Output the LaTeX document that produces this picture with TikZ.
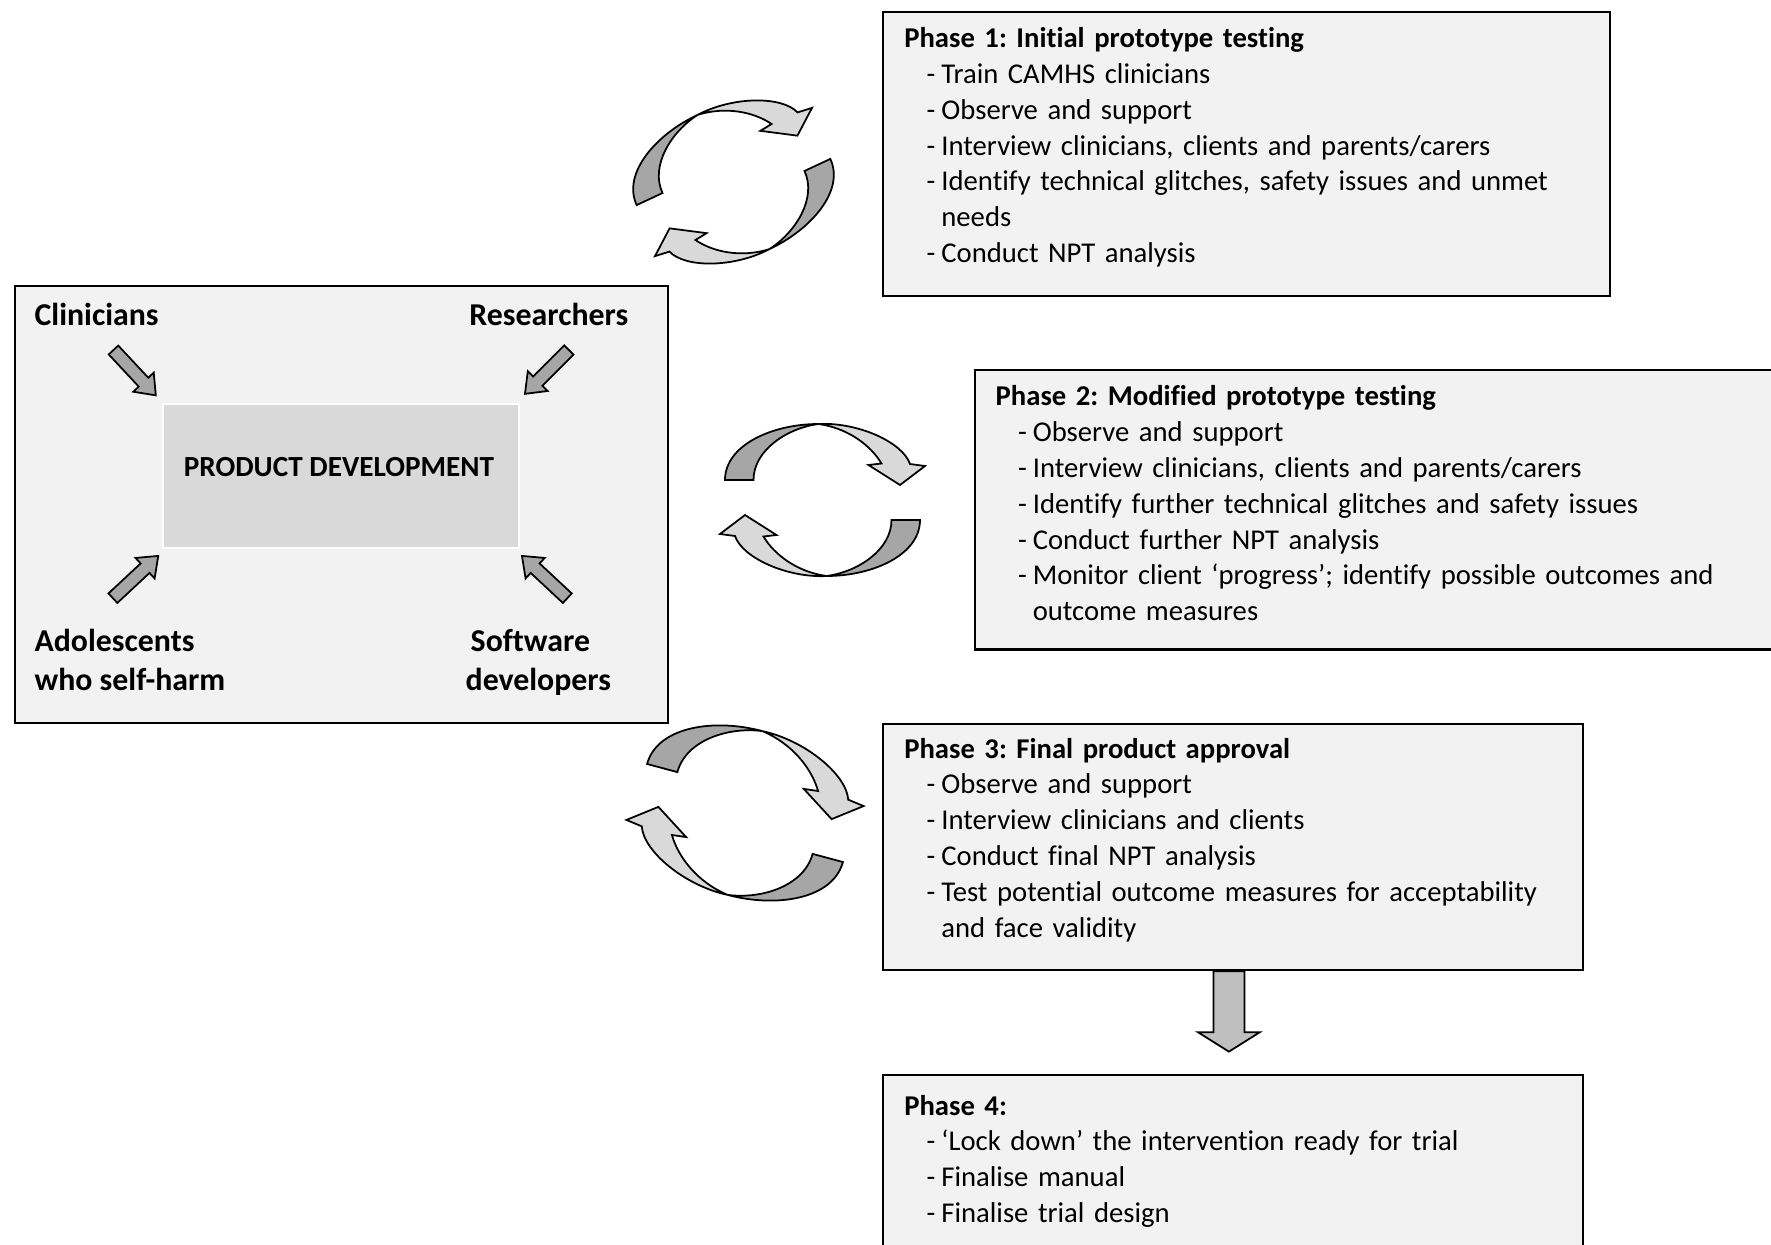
\documentclass[tikz,border=0pt]{standalone}
\usepackage{fontspec}
\setmainfont{Carlito}[Ligatures=NoCommon]
\frenchspacing
\usetikzlibrary{calc,positioning}
\definecolor{panelgrey}{HTML}{F2F2F2}
\definecolor{coregrey}{HTML}{D9D9D9}
\definecolor{slabgrey}{HTML}{A6A6A6}
\definecolor{cyclelight}{HTML}{D9D9D9}
\definecolor{cycledark}{HTML}{A6A6A6}
\definecolor{dropgrey}{HTML}{BFBFBF}
\newcommand{\phaseitem}{\hspace*{0.224cm}\makebox[0.147cm][l]{-}}
\newcommand{\phasecont}{\hspace*{0.371cm}}
\tikzset{
  panelbox/.style={
    draw=black,
    fill=panelgrey,
    line width=0.6pt,
    anchor=north west,
    inner sep=0pt
  },
  phasetext/.style={
    anchor=base west,
    align=left,
    inner sep=0pt,
    text width=7.6cm,
    font=\fontsize{8.15}{10.2}\selectfont
  },
  grouplabel/.style={
    inner sep=0pt,
    align=left,
    font=\fontsize{9.05}{11.2}\selectfont\bfseries
  },
  slab/.style={draw=black, fill=slabgrey, line width=0.5pt},
  cycledarkpart/.style={draw=black, fill=cycledark, line width=0.5pt},
  cyclelightpart/.style={draw=black, fill=cyclelight, line width=0.5pt},
  droparrow/.style={draw=black, fill=dropgrey, line width=0.5pt},
  slabarrow/.pic={
    \path[slab] (0,-6.5) -- (44,-6.5) -- (44,-14) -- (62,0) -- (44,14) -- (44,6.5) -- (0,6.5) -- cycle;
  },
  cyclepair/.pic={
    \foreach \turn in {0,180} {
      \begin{scope}[rotate=\turn]
        \path[cycledarkpart] (-97.5,-20) .. controls (-97.5,-55) and (-50,-76) .. (-4,-76)
          .. controls (-35,-72) and (-69,-50) .. (-69,-20) -- cycle;
        \path[cyclelightpart] (-4,-76) .. controls (35,-78) and (80,-58) .. (87.5,-36)
          -- (102.5,-34) -- (77.5,-15) -- (46,-35) -- (59,-36.5)
          .. controls (48,-55) and (25,-72) .. (-4,-76) -- cycle;
      \end{scope}
    }
  }
}

\begin{document}
\begin{tikzpicture}[x=0.01cm, y=-0.01cm]
  \useasboundingbox (0,0) rectangle (1771,1245);

  % stakeholders panel
  \node[panelbox, minimum width=6.528cm, minimum height=4.371cm] (panel) at (13.6,284.6) {};
  \node[draw=white, fill=coregrey, line width=0.6pt, anchor=north west, inner sep=0pt,
        minimum width=3.558cm, minimum height=1.435cm] (core) at (161.5,403.2) {};
  \node[grouplabel, font=\fontsize{8.3}{10.2}\selectfont\bfseries, anchor=base] (coretext) at (339,476.5) {PRODUCT DEVELOPMENT};

  \node[grouplabel, anchor=base west] (clin) at (33.9,325) {Clinicians};
  \node[grouplabel, anchor=base east] (res) at (629,325) {Researchers};
  \node[grouplabel, anchor=base west] (adol) at (33.9,690.5) {Adolescents\\who self-harm};
  \node[grouplabel, anchor=base west] (soft) at (465,690.5) {\hspace*{0.05cm}Software\\developers};

  \coordinate (clinfrom) at ($(core.north west)+(-48,-53.2)$);
  \coordinate (resfrom) at ($(core.north east)+(49.2,-53.2)$);
  \coordinate (adolfrom) at ($(core.south west)+(-48.6,49.3)$);
  \coordinate (softfrom) at ($(core.south east)+(47.7,49.3)$);
  \pic[rotate=-47] at (clinfrom) {slabarrow};
  \pic[rotate=-135] at (resfrom) {slabarrow};
  \pic[rotate=43] at (adolfrom) {slabarrow};
  \pic[rotate=137] at (softfrom) {slabarrow};

  % iteration cycles
  \pic[rotate=25] at (733.5,182) {cyclepair};
  \pic at (822.5,500) {cyclepair};
  \pic[rotate=-15, scale=1.1] at (745,813) {cyclepair};

  % phases
  \node[panelbox, minimum width=7.264cm, minimum height=2.835cm] (ph1) at (882,11.3) {};
  \node[phasetext] (ph1text) at (903.6,47.5) {\textbf{Phase 1: Initial prototype testing}\\
    \phaseitem Train CAMHS clinicians\\
    \phaseitem Observe and support\\
    \phaseitem Interview clinicians, clients and parents/carers\\
    \phaseitem Identify technical glitches, safety issues and unmet\\
    \phasecont needs\\
    \phaseitem Conduct NPT analysis};

  \node[panelbox, minimum width=8.2cm, minimum height=2.79cm] (ph2) at (973.6,369.3) {};
  \node[phasetext] (ph2text) at (995,405.6) {\textbf{Phase 2: Modified prototype testing}\\
    \phaseitem Observe and support\\
    \phaseitem Interview clinicians, clients and parents/carers\\
    \phaseitem Identify further technical glitches and safety issues\\
    \phaseitem Conduct further NPT analysis\\
    \phaseitem Monitor client ‘progress’; identify possible outcomes and\\
    \phasecont outcome measures};

  \node[panelbox, minimum width=6.993cm, minimum height=2.46cm] (ph3) at (882,722.9) {};
  \node[phasetext] (ph3text) at (903.6,758) {\textbf{Phase 3: Final product approval}\\
    \phaseitem Observe and support\\
    \phaseitem Interview clinicians and clients\\
    \phaseitem Conduct final NPT analysis\\
    \phaseitem Test potential outcome measures for acceptability\\
    \phasecont and face validity};

  \node[panelbox, minimum width=6.993cm, minimum height=2.2cm] (ph4) at (882,1074) {};
  \node[phasetext] (ph4text) at (903.6,1115) {\textbf{Phase 4:}\\
    \phaseitem ‘Lock down’ the intervention ready for trial\\
    \phaseitem Finalise manual\\
    \phaseitem Finalise trial design};

  \coordinate (droptop) at ($(ph3.south)+(-4,0)$);
  \path[droparrow] (droptop) ++(-15.5,0) -- ++(31,0) -- ++(0,61) -- ++(15.5,0)
    -- ++(-31,19.5) -- ++(-31,-19.5) -- ++(15.5,0) -- cycle;
\end{tikzpicture}
\end{document}
